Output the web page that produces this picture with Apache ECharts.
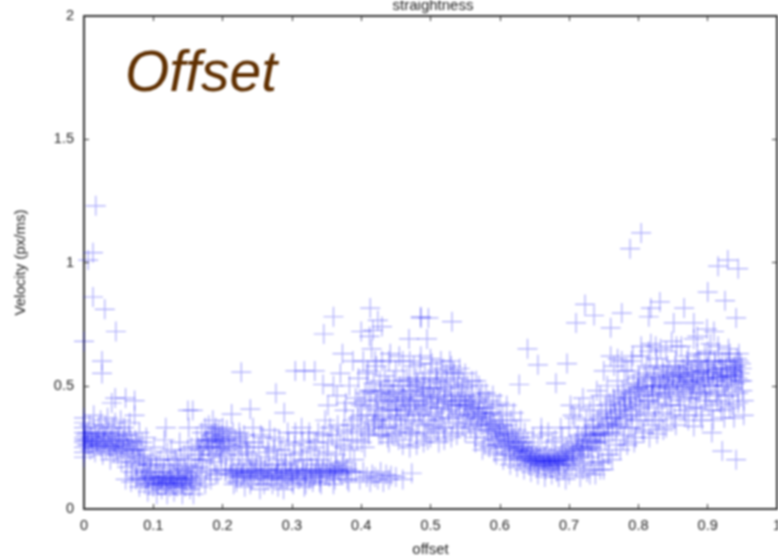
<!DOCTYPE html>
<html><head><meta charset="utf-8">
<style>html,body{margin:0;padding:0;background:#fff}#c{width:778px;height:558px;filter:blur(0.8px)}</style>
<script src="https://cdn.jsdelivr.net/npm/echarts@6/dist/echarts.min.js"></script>
</head><body><div id="c"></div>
<script>
const xTicks = ['0','0.1','0.2','0.3','0.4','0.5','0.6','0.7','0.8','0.9','1'];
const yTicks = ['0','0.5','1','1.5','2'];
const outliers = [[.017,1.23],[.013,1.04],[.006,1.01],[.013,.86],[.03,.81],[.046,.72],[0,.68],[.026,.6],[.026,.55],[.04,.43],[.045,.45],[.06,.45],[.073,.44],[.227,.555],[.277,.47],[.24,.405],[.157,.4],[.15,.4],[.118,.33],[.213,.385],[.289,.39],[.305,.56],[.318,.56],[.333,.56],[.345,.505],[.346,.71],[.36,.78],[.413,.815],[.4,.72],[.417,.725],[.424,.765],[.373,.63],[.486,.78],[.497,.775],[.531,.76],[.469,.69],[.495,.69],[.64,.65],[.655,.585],[.697,.59],[.628,.505],[.681,.51],[.723,.83],[.736,.785],[.71,.755],[.776,.795],[.76,.735],[.804,1.12],[.788,1.056],[.915,.985],[.929,1.01],[.944,.975],[.9,.88],[.925,.845],[.941,.775],[.831,.84],[.818,.815],[.815,.78],[.866,.815],[.851,.755],[.88,.755],[.899,.73],[.909,.72],[.885,.7],[.941,.2],[.921,.235],[.906,.31],[.952,.38],[.88,.335],[.827,.305],[.473,.145],[.443,.135],[.486,.775],[.412,.7],[.43,.74]];
const startCluster = [[0,.37],[0,.35],[0,.33],[0,.31],[0,.29],[0,.28],[0,.27],[0,.25],[0,.23],[0,.21],[.003,.3],[.004,.26],[.006,.28],[.008,.34],[.009,.24],[.011,.29],[.012,.27],[.014,.38],[.015,.31],[.016,.23],[.018,.27],[.02,.26],[.021,.33],[.022,.29],[.024,.36],[.025,.25],[.027,.22],[.028,.3],[.029,.27],[.031,.34],[.032,.24],[.034,.37],[.035,.26],[.036,.31],[.038,.2],[.039,.28],[.041,.25],[.042,.33],[.043,.23],[.045,.35],[.046,.26],[.048,.29],[.049,.22],[.05,.31],[.052,.25],[.053,.36],[.054,.19],[.056,.28],[.057,.24],[.058,.33],[.06,.21],[.061,.27],[.062,.17],[.064,.3],[.065,.23],[.066,.35],[.068,.19],[.069,.26],[.07,.15],[.072,.22],[.073,.38],[.074,.28],[.075,.18],[.077,.13],[.078,.24],[.08,.31],[.081,.2],[.083,.12],[.084,.27],[.085,.16],[.087,.22],[.088,.1],[.09,.29],[.091,.18]];
const firstTrough = [[.06,.12],[.068,.11],[.075,.12],[.08,.09],[.086,.14],[.09,.12],[.092,.07],[.094,.1],[.096,.15],[.097,.21],[.099,.12],[.1,.09],[.101,.25],[.103,.11],[.104,.17],[.105,.06],[.107,.13],[.108,.1],[.11,.2],[.111,.12],[.112,.08],[.114,.11],[.115,.15],[.116,.28],[.117,.1],[.119,.13],[.12,.06],[.121,.11],[.122,.18],[.124,.09],[.125,.12],[.126,.24],[.128,.1],[.129,.14],[.13,.07],[.132,.12],[.133,.2],[.134,.09],[.136,.11],[.137,.16],[.138,.27],[.14,.1],[.141,.13],[.142,.06],[.144,.12],[.145,.22],[.146,.09],[.148,.15],[.149,.11],[.15,.18],[.151,.33],[.153,.08],[.154,.12],[.155,.25],[.157,.14],[.158,.06],[.16,.2],[.161,.11],[.163,.28],[.165,.17],[.166,.09],[.168,.24],[.169,.13],[.17,.31],[.172,.2],[.174,.27],[.175,.1],[.177,.16],[.178,.28],[.18,.34],[.182,.22],[.183,.12],[.185,.28],[.186,.36],[.188,.19],[.19,.29],[.191,.25],[.193,.14],[.195,.32],[.196,.28],[.198,.21],[.2,.27]];
const lowerBand = [[.182,.15],[.19,.14],[.198,.16],[.204,.15],[.208,.28],[.21,.14],[.212,.2],[.214,.16],[.216,.1],[.218,.25],[.22,.14],[.222,.15],[.224,.31],[.226,.13],[.228,.18],[.23,.15],[.232,.09],[.234,.27],[.236,.14],[.238,.22],[.24,.16],[.242,.12],[.244,.33],[.246,.15],[.248,.19],[.25,.13],[.252,.25],[.254,.08],[.256,.15],[.258,.29],[.26,.14],[.262,.21],[.264,.12],[.266,.16],[.268,.32],[.27,.15],[.272,.1],[.274,.24],[.276,.13],[.278,.18],[.28,.14],[.282,.28],[.284,.12],[.286,.16],[.288,.08],[.29,.22],[.292,.14],[.294,.31],[.296,.13],[.298,.19],[.3,.15],[.302,.1],[.304,.26],[.306,.14],[.308,.16],[.31,.12],[.312,.23],[.314,.33],[.316,.15],[.318,.09],[.32,.14],[.322,.2],[.324,.28],[.326,.13],[.328,.16],[.33,.11],[.332,.25],[.334,.15],[.336,.18],[.338,.31],[.34,.14],[.342,.1],[.344,.16],[.346,.22],[.348,.36],[.35,.15],[.352,.27],[.354,.13],[.356,.17],[.358,.3],[.36,.15],[.362,.12],[.364,.22],[.366,.34],[.368,.16],[.37,.26],[.372,.14],[.374,.19],[.376,.4],[.378,.16],[.38,.31],[.382,.11],[.384,.24],[.386,.15],[.388,.36],[.39,.2],[.392,.15],[.394,.28],[.396,.43],[.398,.12],[.4,.33],[.403,.15],[.405,.25],[.408,.13],[.41,.48],[.413,.11],[.416,.14],[.42,.13],[.424,.12],[.428,.15],[.432,.11],[.436,.14],[.44,.12],[.45,.13],[.46,.12]];
const midCloud = [[.352,.42],[.36,.5],[.365,.46],[.37,.55],[.378,.43],[.383,.5],[.388,.6],[.392,.45],[.396,.53],[.4,.38],[.403,.6],[.406,.47],[.408,.55],[.41,.31],[.413,.42],[.415,.65],[.418,.51],[.42,.36],[.422,.58],[.424,.44],[.426,.3],[.428,.48],[.43,.6],[.432,.38],[.434,.54],[.436,.43],[.438,.29],[.44,.5],[.442,.63],[.444,.4],[.446,.47],[.448,.34],[.45,.56],[.452,.42],[.454,.28],[.456,.5],[.458,.38],[.46,.6],[.462,.45],[.464,.32],[.466,.53],[.468,.41],[.47,.25],[.472,.48],[.474,.36],[.476,.58],[.478,.44],[.48,.3],[.482,.51],[.484,.4],[.486,.62],[.488,.46],[.49,.34],[.492,.55],[.494,.42],[.496,.28],[.498,.49],[.5,.38],[.502,.59],[.504,.45],[.506,.33],[.508,.53],[.51,.41],[.512,.27],[.514,.48],[.516,.37],[.518,.57],[.52,.44],[.522,.31],[.524,.52],[.526,.4],[.528,.6],[.53,.46],[.532,.35],[.534,.55],[.536,.42],[.538,.3],[.54,.5],[.541,.39],[.542,.57],[.544,.45],[.546,.34],[.547,.51],[.548,.42],[.55,.31],[.46,.45],[.47,.42],[.48,.5],[.49,.44],[.5,.47],[.51,.43],[.52,.49],[.53,.43],[.54,.44],[.42,.41],[.43,.45],[.44,.44],[.45,.4],[.51,.52],[.49,.49],[.47,.52]];
const descent = [[.55,.44],[.552,.38],[.554,.5],[.556,.42],[.558,.33],[.56,.46],[.562,.4],[.564,.29],[.566,.52],[.568,.37],[.57,.43],[.572,.34],[.574,.47],[.576,.39],[.578,.26],[.58,.41],[.582,.32],[.584,.44],[.586,.36],[.588,.28],[.59,.39],[.592,.23],[.594,.33],[.596,.42],[.598,.3],[.6,.36],[.602,.26],[.604,.38],[.606,.31],[.608,.22],[.61,.34],[.612,.28],[.614,.25],[.616,.36],[.618,.3],[.62,.21],[.622,.26],[.624,.32],[.626,.24],[.628,.29],[.63,.2],[.632,.25],[.634,.23],[.636,.31],[.638,.21],[.64,.27],[.642,.18],[.644,.24],[.646,.21],[.648,.29],[.65,.19],[.652,.22],[.654,.17],[.656,.25],[.658,.2],[.66,.3],[.662,.18],[.664,.21],[.666,.16],[.668,.24],[.67,.19],[.672,.2],[.674,.17],[.676,.27],[.678,.19],[.68,.22],[.682,.15],[.684,.2],[.686,.18],[.688,.33],[.69,.21],[.692,.16],[.694,.19],[.696,.25],[.698,.2],[.7,.14],[.702,.42],[.704,.18],[.706,.22],[.708,.37],[.71,.17],[.712,.28],[.714,.21],[.716,.13],[.718,.24],[.72,.45],[.722,.19],[.724,.3],[.726,.15],[.728,.25]];
const riseBand = [[.73,.4],[.732,.21],[.734,.33],[.736,.27],[.738,.14],[.74,.48],[.742,.24],[.744,.37],[.746,.3],[.748,.19],[.75,.56],[.752,.28],[.754,.42],[.756,.34],[.758,.22],[.76,.62],[.762,.31],[.764,.45],[.766,.37],[.768,.26],[.77,.52],[.772,.34],[.774,.42],[.776,.6],[.778,.28],[.78,.47],[.782,.38],[.784,.56],[.786,.33],[.788,.45],[.79,.4],[.792,.62],[.794,.27],[.796,.48],[.798,.36],[.8,.53],[.802,.43],[.804,.66],[.806,.32],[.808,.49],[.81,.39],[.812,.58],[.814,.44],[.816,.29],[.818,.67],[.82,.47],[.822,.53],[.824,.36],[.826,.61],[.828,.43],[.83,.5],[.832,.65],[.834,.39],[.836,.55],[.838,.47],[.84,.33],[.842,.58],[.844,.49],[.846,.42],[.848,.68],[.85,.53],[.852,.37],[.854,.6],[.856,.48],[.858,.55],[.86,.42],[.862,.66],[.864,.5],[.866,.57],[.868,.38],[.87,.53],[.872,.62],[.874,.45],[.876,.56],[.878,.49],[.88,.69],[.882,.41],[.884,.54],[.886,.6],[.888,.47],[.89,.56],[.892,.36],[.894,.51],[.896,.63],[.898,.44],[.9,.58],[.902,.5],[.904,.67],[.906,.4],[.908,.55],[.91,.6],[.912,.47],[.914,.53],[.916,.63],[.918,.43],[.92,.57],[.922,.5],[.924,.37],[.926,.6],[.928,.54],[.93,.46],[.932,.63],[.934,.56],[.936,.42],[.938,.58],[.94,.51],[.942,.61],[.944,.47],[.946,.55],[.948,.59],[.95,.52],[.952,.44],[.82,.5],[.84,.52],[.86,.54],[.88,.52],[.9,.55],[.92,.54],[.94,.56],[.8,.49],[.78,.43],[.76,.4],[.74,.3],[.72,.25]];
const denseLeft = [[.002,.28],[.005,.31],[.007,.26],[.01,.29],[.013,.25],[.017,.3],[.019,.28],[.023,.26],[.026,.31],[.03,.28],[.033,.29],[.037,.25],[.04,.3],[.044,.27],[.047,.24],[.051,.28],[.055,.26],[.059,.3],[.063,.25],[.067,.28],[.071,.24],[.076,.27],[.079,.21],[.082,.24],[.086,.19],[.089,.15],[.093,.13],[.095,.18],[.098,.11],[.102,.13],[.106,.1],[.109,.12],[.113,.13],[.118,.1],[.123,.12],[.127,.11],[.131,.1],[.135,.13],[.139,.12],[.143,.1],[.147,.12],[.152,.13],[.156,.1],[.162,.15],[.167,.22],[.171,.26],[.176,.28],[.179,.25],[.184,.3],[.187,.28],[.189,.31],[.192,.27],[.194,.29],[.197,.24],[.199,.3],[.201,.25],[.203,.28],[.206,.32],[.209,.26],[.211,.29],[.215,.24],[.219,.28],[.223,.22],[.227,.26],[.231,.3],[.235,.25]];
const denseLowerBand = [[.205,.16],[.213,.14],[.217,.15],[.221,.13],[.225,.16],[.229,.14],[.233,.15],[.237,.13],[.241,.15],[.245,.14],[.249,.16],[.253,.14],[.257,.13],[.261,.16],[.265,.14],[.269,.13],[.273,.15],[.277,.14],[.281,.16],[.285,.13],[.289,.15],[.293,.12],[.297,.15],[.301,.14],[.305,.16],[.309,.14],[.313,.13],[.317,.16],[.321,.15],[.325,.12],[.329,.15],[.333,.14],[.337,.16],[.341,.13],[.345,.15],[.349,.14],[.353,.16],[.357,.15],[.361,.14],[.365,.16],[.369,.15],[.373,.17],[.377,.15],[.381,.16],[.243,.2],[.255,.18],[.267,.23],[.279,.2],[.291,.18],[.303,.22],[.315,.2],[.327,.24],[.339,.2],[.351,.23],[.363,.18],[.375,.25],[.387,.28],[.401,.27],[.411,.3],[.419,.34],[.425,.36],[.431,.33]];
const denseMiddle = [[.404,.44],[.409,.38],[.414,.48],[.417,.35],[.421,.47],[.423,.4],[.427,.52],[.429,.37],[.433,.46],[.435,.33],[.437,.5],[.439,.41],[.441,.36],[.443,.47],[.445,.3],[.447,.52],[.449,.44],[.451,.37],[.453,.48],[.455,.4],[.457,.33],[.459,.46],[.461,.52],[.463,.38],[.465,.44],[.467,.36],[.469,.5],[.471,.43],[.473,.31],[.475,.47],[.477,.39],[.479,.53],[.481,.42],[.483,.35],[.485,.48],[.487,.38],[.489,.52],[.491,.41],[.493,.31],[.495,.46],[.497,.36],[.499,.53],[.501,.43],[.503,.34],[.505,.49],[.507,.39],[.509,.56],[.511,.45],[.513,.36],[.515,.51],[.517,.41],[.519,.33],[.521,.46],[.523,.55],[.525,.44],[.527,.37],[.529,.5],[.531,.42],[.533,.56],[.535,.47],[.537,.38],[.539,.53],[.543,.42],[.545,.49],[.549,.37],[.551,.46],[.553,.41],[.555,.35],[.557,.44],[.559,.38],[.561,.43],[.563,.36],[.565,.41],[.567,.32],[.569,.39],[.571,.45],[.573,.37],[.575,.34],[.577,.41],[.579,.35],[.581,.38],[.583,.29],[.585,.34],[.587,.39],[.589,.31],[.591,.35],[.593,.28],[.595,.32],[.597,.26],[.599,.33],[.601,.29],[.603,.34],[.605,.27],[.607,.3],[.609,.25],[.611,.31],[.613,.27],[.615,.22],[.617,.28],[.619,.24],[.621,.29],[.623,.23],[.625,.27],[.627,.21],[.629,.25],[.631,.22],[.633,.27],[.635,.21],[.637,.24],[.639,.2],[.641,.23],[.643,.2],[.645,.19],[.647,.22],[.649,.2],[.651,.19],[.653,.21],[.655,.2],[.657,.18],[.659,.21],[.661,.2],[.663,.19],[.665,.21],[.667,.19],[.669,.2],[.671,.18],[.673,.21],[.675,.19],[.677,.2],[.679,.18],[.681,.2],[.683,.19],[.685,.21],[.687,.2],[.689,.22],[.691,.2],[.693,.23],[.695,.21],[.697,.18],[.699,.24],[.701,.21],[.703,.26],[.705,.23],[.707,.2],[.709,.27],[.711,.24],[.713,.3],[.715,.25],[.717,.22],[.719,.29],[.721,.26],[.723,.33],[.725,.28],[.727,.24]];
const denseRight = [[.729,.31],[.731,.28],[.733,.25],[.735,.34],[.737,.3],[.739,.27],[.741,.36],[.743,.31],[.745,.27],[.747,.38],[.749,.33],[.751,.3],[.753,.39],[.755,.35],[.757,.31],[.759,.43],[.761,.37],[.763,.34],[.765,.44],[.767,.39],[.769,.35],[.771,.46],[.773,.4],[.775,.36],[.777,.48],[.779,.41],[.781,.45],[.783,.37],[.785,.5],[.787,.42],[.789,.47],[.791,.38],[.793,.51],[.795,.44],[.797,.41],[.799,.49],[.801,.54],[.803,.46],[.805,.5],[.807,.42],[.809,.55],[.811,.48],[.813,.52],[.815,.44],[.817,.57],[.819,.5],[.821,.46],[.823,.54],[.825,.5],[.827,.58],[.829,.46],[.831,.53],[.833,.49],[.835,.57],[.837,.51],[.839,.45],[.841,.54],[.843,.5],[.845,.56],[.847,.47],[.849,.54],[.851,.5],[.853,.58],[.855,.52],[.857,.46],[.859,.55],[.861,.51],[.863,.57],[.865,.49],[.867,.54],[.869,.5],[.871,.58],[.873,.52],[.875,.47],[.877,.55],[.879,.51],[.881,.59],[.883,.48],[.885,.55],[.887,.52],[.889,.6],[.891,.5],[.893,.56],[.895,.53],[.897,.47],[.899,.57],[.901,.53],[.903,.6],[.905,.5],[.907,.56],[.909,.52],[.911,.59],[.913,.54],[.915,.48],[.917,.57],[.919,.53],[.921,.6],[.923,.55],[.925,.5],[.927,.57],[.929,.52],[.931,.6],[.933,.54],[.935,.49],[.937,.57],[.939,.54],[.941,.58],[.943,.53],[.945,.6],[.947,.52],[.949,.57]];
const spreadRight = [[.742,.19],[.75,.16],[.756,.22],[.762,.2],[.768,.33],[.774,.24],[.78,.3],[.784,.26],[.79,.33],[.796,.29],[.802,.36],[.808,.31],[.814,.38],[.82,.34],[.824,.41],[.83,.36],[.836,.32],[.842,.42],[.848,.38],[.854,.34],[.86,.44],[.866,.4],[.872,.36],[.878,.45],[.884,.41],[.89,.38],[.896,.46],[.902,.42],[.908,.36],[.914,.44],[.92,.4],[.926,.46],[.932,.41],[.938,.37],[.944,.43],[.95,.48],[.78,.56],[.79,.6],[.805,.62],[.815,.64],[.825,.66],[.84,.64],[.855,.66],[.87,.6],[.885,.63],[.9,.64],[.915,.66],[.93,.65],[.945,.63],[.72,.16],[.73,.14],[.735,.18],[.745,.16],[.725,.36],[.735,.42],[.745,.46],[.755,.5],[.765,.58],[.77,.61]];
const spreadMiddle = [[.4,.42],[.41,.56],[.42,.6],[.43,.3],[.44,.27],[.45,.31],[.46,.26],[.47,.31],[.48,.26],[.49,.27],[.5,.29],[.51,.32],[.52,.28],[.53,.29],[.54,.33],[.55,.55],[.56,.52],[.57,.5],[.58,.47],[.59,.46],[.6,.43],[.61,.42],[.62,.39],[.63,.36],[.565,.27],[.575,.24],[.585,.25],[.595,.22],[.605,.2],[.615,.18],[.625,.17],[.635,.16],[.645,.15],[.655,.14],[.665,.13],[.675,.14],[.685,.13],[.695,.12],[.66,.33],[.67,.31],[.68,.28],[.69,.29],[.7,.33],[.705,.38],[.715,.41],[.44,.6],[.455,.62],[.47,.6],[.485,.59],[.5,.61],[.515,.6],[.53,.58]];
const spreadLeft = [[.215,.31],[.225,.29],[.235,.23],[.245,.27],[.255,.3],[.265,.25],[.275,.29],[.285,.24],[.295,.27],[.305,.31],[.315,.27],[.325,.31],[.335,.27],[.345,.3],[.355,.33],[.365,.28],[.375,.32],[.385,.34],[.395,.37],[.405,.32],[.22,.11],[.24,.1],[.26,.1],[.28,.09],[.3,.11],[.32,.1],[.34,.11],[.36,.1],[.38,.12],[.165,.25],[.17,.2],[.175,.33],[.18,.25],[.185,.22],[.19,.33],[.195,.23],[.2,.33],[.205,.22],[.105,.2],[.115,.18],[.125,.15],[.135,.17],[.145,.16],[.155,.17],[.12,.23],[.13,.2],[.14,.21],[.15,.24]];
const allPoints = [...outliers, ...startCluster, ...firstTrough, ...lowerBand, ...midCloud, ...descent, ...riseBand, ...denseLeft, ...denseLowerBand, ...denseMiddle, ...denseRight, ...spreadRight, ...spreadMiddle, ...spreadLeft];
const tickColor = '#333';
const hiddenLabels = {show:false};
const inTick = {show:true, inside:true, length:5, lineStyle:{color:tickColor, width:1}};
const frame = {show:true, onZero:false, lineStyle:{color:tickColor, width:2}};
const font = {color:'#222', fontSize:14.5, fontFamily:'Liberation Sans, Arial, sans-serif'};
const chart = echarts.init(document.getElementById('c'), null, {renderer:'canvas'});
chart.setOption({
  animation:false,
  backgroundColor:'#fff',
  title:{text:'straightness', left:428, top:-7, textAlign:'center', textStyle:{...font, fontSize:15, fontWeight:'normal'}},
  grid:{left:84, right:1, top:16, bottom:49, outerBoundsMode:'none'},
  xAxis:[
    {type:'value', min:0, max:1, interval:.1, position:'bottom', name:'offset', nameLocation:'middle', nameGap:33, nameTextStyle:{...font, fontSize:15},
     axisLine:frame, axisTick:inTick, splitLine:{show:false},
     axisLabel:{...font, margin:9, showMaxLabel:true, formatter:v=>xTicks[Math.round(v*10)]}},
    {type:'value', min:0, max:1, interval:.1, position:'top', axisLine:frame, axisTick:inTick, axisLabel:hiddenLabels, splitLine:{show:false}}
  ],
  yAxis:[
    {type:'value', min:0, max:2, interval:.5, position:'left', name:'Velocity (px/ms)', nameLocation:'middle', nameGap:56, nameRotate:90, nameTextStyle:{...font, fontSize:15},
     axisLine:frame, axisTick:inTick, splitLine:{show:false},
     axisLabel:{...font, margin:10, formatter:v=>yTicks[Math.round(v*2)]}},
    {type:'value', min:0, max:2, interval:.5, position:'right', axisLine:frame, axisTick:inTick, axisLabel:hiddenLabels, splitLine:{show:false}}
  ],
  graphic:[{type:'text', left:125, top:47, style:{text:'Offset', font:'italic 57px "Liberation Sans", Arial, sans-serif', fill:'#5f2f00'}}],
  series:[{
    type:'scatter', data:allPoints, clip:false, large:false,
    symbol:'path://M0 10H20M10 0V20', symbolSize:20,
    itemStyle:{color:'rgba(0,0,0,0)', borderColor:'rgba(10,10,245,0.34)', borderWidth:1.2, opacity:1},
    emphasis:{disabled:true}
  }]
});
</script></body></html>
